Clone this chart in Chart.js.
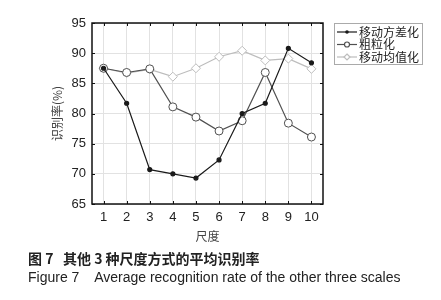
<!DOCTYPE html>
<html>
<head>
<meta charset="utf-8">
<script src="https://cdn.jsdelivr.net/npm/chart.js@4/dist/chart.umd.min.js"></script>
<style>
  body { margin: 0; background: #fff; }
  #wrap { position: relative; width: 441px; height: 300px; }
  .cap { position: absolute; left: 28px; color: #222; white-space: pre; }
  #capcn { top: 248px; font: bold 14px "Noto Sans CJK SC", sans-serif; }
  #capen { top: 269px; font: 14px "Liberation Sans", Arial, sans-serif; }
</style>
</head>
<body>
<div id="wrap">
  <canvas id="c" width="441" height="250"></canvas>
  <div class="cap" id="capcn">图 7   其他 3 种尺度方式的平均识别率</div>
  <div class="cap" id="capen">Figure 7    Average recognition rate of the other three scales</div>
</div>
<script>
const scales = ['1', '2', '3', '4', '5', '6', '7', '8', '9', '10']
const varianceRate = [87.5, 81.7, 70.7, 70.0, 69.3, 72.3, 80.0, 81.7, 90.8, 88.4]
const coarseRate = [87.5, 86.8, 87.4, 81.1, 79.4, 77.1, 78.8, 86.8, 78.4, 76.1]
const meanRate = [87.5, 86.7, 87.3, 86.1, 87.5, 89.4, 90.4, 88.8, 89.1, 87.4]
const yTicks = [65, 70, 75, 80, 85, 90, 95]

const tickFont = { family: '"Liberation Sans", Arial, sans-serif', size: 13 }
const cjkFont = { family: '"Noto Sans CJK SC", sans-serif', size: 12 }

// box, inward tick marks and boxed legend
const framePlugin = {
  id: 'frame',
  afterDraw (chart) {
    const ctx = chart.ctx
    const a = chart.chartArea
    const xs = chart.scales.x
    const ys = chart.scales.y
    ctx.save()
    ctx.strokeStyle = '#111'
    ctx.lineWidth = 1
    ctx.beginPath()
    for (let i = 0; i < xs.ticks.length; i++) {
      const px = Math.round(xs.getPixelForTick(i)) + 0.5
      ctx.moveTo(px, a.bottom); ctx.lineTo(px, a.bottom - 3)
      ctx.moveTo(px, a.top); ctx.lineTo(px, a.top + 3)
    }
    for (let i = 0; i < ys.ticks.length; i++) {
      const py = Math.round(ys.getPixelForTick(i)) + 0.5
      ctx.moveTo(a.left, py); ctx.lineTo(a.left + 3, py)
      ctx.moveTo(a.right, py); ctx.lineTo(a.right - 3, py)
    }
    ctx.stroke()
    ctx.lineWidth = 1.5
    ctx.strokeRect(a.left, a.top, a.right - a.left, a.bottom - a.top)

    // legend
    const lx = a.right + 11
    const ly = a.top
    ctx.lineWidth = 1
    ctx.strokeStyle = '#aaa'
    ctx.strokeRect(lx + 0.5, ly + 0.5, 88, 41)
    ctx.font = '12px "Noto Sans CJK SC", sans-serif'
    ctx.textBaseline = 'middle'
    chart.data.datasets.forEach((ds, i) => {
      const y = ly + 9 + i * 12.5
      ctx.strokeStyle = ds.borderColor
      ctx.lineWidth = 1.2
      ctx.beginPath(); ctx.moveTo(lx + 3, y); ctx.lineTo(lx + 23, y); ctx.stroke()
      ctx.beginPath()
      if (ds.pointStyle === 'rectRot') {
        ctx.moveTo(lx + 13, y - 3); ctx.lineTo(lx + 16, y); ctx.lineTo(lx + 13, y + 3); ctx.lineTo(lx + 10, y); ctx.closePath()
        ctx.fillStyle = '#fff'; ctx.fill(); ctx.stroke()
      } else if (ds.pointBackgroundColor === '#fff') {
        ctx.arc(lx + 13, y, 2.5, 0, Math.PI * 2); ctx.fillStyle = '#fff'; ctx.fill(); ctx.stroke()
      } else {
        ctx.arc(lx + 13, y, 1.8, 0, Math.PI * 2); ctx.fillStyle = ds.borderColor; ctx.fill()
      }
      ctx.fillStyle = '#222'
      ctx.fillText(ds.label, lx + 25, y)
    })
    ctx.restore()
  }
}

new Chart(document.getElementById('c').getContext('2d'), {
  type: 'line',
  data: {
    labels: scales,
    datasets: [
      {
        label: '移动方差化',
        data: varianceRate,
        borderColor: '#1a1a1a',
        backgroundColor: '#1a1a1a',
        pointBackgroundColor: '#1a1a1a',
        pointStyle: 'circle',
        pointRadius: 2,
        borderWidth: 1.2,
        tension: 0
      },
      {
        label: '粗粒化',
        data: coarseRate,
        borderColor: '#505050',
        backgroundColor: '#505050',
        pointBackgroundColor: '#fff',
        pointStyle: 'circle',
        pointRadius: 4,
        pointBorderWidth: 1,
        borderWidth: 1.2,
        tension: 0
      },
      {
        label: '移动均值化',
        data: meanRate,
        borderColor: '#bdbdbd',
        backgroundColor: '#bdbdbd',
        pointBackgroundColor: '#fff',
        pointStyle: 'rectRot',
        pointRadius: 4.5,
        pointBorderWidth: 1,
        borderWidth: 1.2,
        tension: 0
      }
    ]
  },
  options: {
    responsive: false,
    animation: false,
    layout: { padding: { top: 23, right: 118, left: 0, bottom: 0 } },
    scales: {
      x: {
        type: 'category',
        offset: true,
        grid: { color: '#e2e2e2', drawTicks: false, offset: false },
        border: { display: false },
        ticks: { color: '#222', font: tickFont, padding: 6, maxRotation: 0 },
        title: { display: true, text: '尺度', color: '#444', font: cjkFont, padding: { top: 0, bottom: 6 } },
        afterFit (s) { s.height = 46 }
      },
      y: {
        min: 65,
        max: 95,
        afterBuildTicks (s) { s.ticks = yTicks.map(v => ({ value: v })) },
        grid: { color: '#e2e2e2', drawTicks: false },
        border: { display: false },
        ticks: { color: '#222', font: tickFont, padding: 6 },
        title: { display: true, text: '识别率(%)', color: '#444', font: cjkFont, padding: { top: 50, bottom: 0 } },
        afterFit (s) { s.width = 92 }
      }
    },
    plugins: {
      legend: { display: false },
      tooltip: { enabled: false }
    }
  },
  plugins: [framePlugin]
})
</script>
</body>
</html>
